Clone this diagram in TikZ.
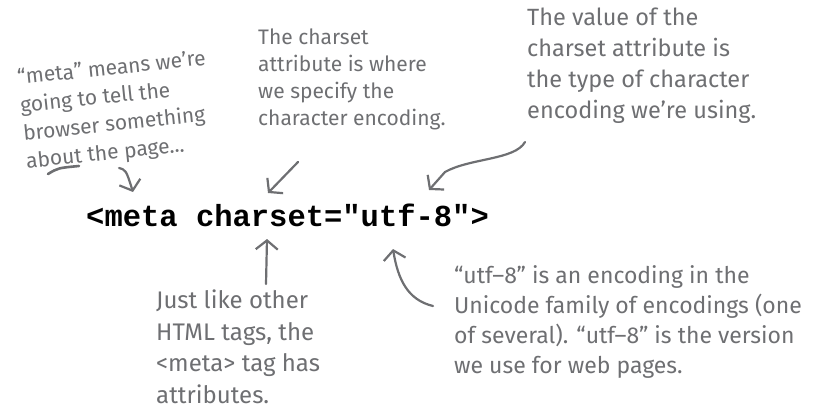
\documentclass[tikz,border=0pt]{standalone}
\usepackage{fontspec}
\setmainfont{Fira Sans}
\newfontfamily\codefont{Liberation Mono}
\usetikzlibrary{arrows.meta}
\definecolor{ink}{HTML}{6E6F72}
\tikzset{
  note/.style={text=ink, align=left, inner sep=0pt},
  pen/.style={draw=ink, line width=2.2pt, line cap=round, line join=round},
  barb/.style={pen, -{Straight Barb[length=9pt, width=22pt, line width=2.2pt]}},
}
\begin{document}
\begin{tikzpicture}[x=1pt, y=-1pt]
\useasboundingbox (0,0) rectangle (821,414);
% code line
\node[anchor=base west, inner sep=0pt, font=\codefont\bfseries\fontsize{30.5}{31}\selectfont] (code) at (86,226) {<meta charset="utf-8">};
% notes
\node[note, rotate=6, anchor=center, font=\fontsize{21}{28}\selectfont] (meta) at (116,111) {“meta” means we’re\\going to tell the\\browser something\\about the page...};
\node[note, anchor=north west, font=\fontsize{21}{27}\selectfont] (charset) at (258,29) {The charset\\attribute is where\\we specify the\\character encoding.};
\node[note, anchor=north west, font=\fontsize{23.5}{31}\selectfont] (value) at (527,8) {The value of the\\charset attribute is\\the type of character\\encoding we’re using.};
\node[note, anchor=north west, font=\fontsize{24}{31.5}\selectfont] (tags) at (156,290) {Just like other\\HTML tags, the\\<meta> tag has\\attributes.};
\node[note, anchor=center, font=\fontsize{23}{30}\selectfont] (utf) at (628,322) {“utf–8” is an encoding in the\\Unicode family of encodings (one\\of several). “utf–8” is the version\\we use for web pages.};
% arrow end points
\coordinate (a1s) at (119,168);
\coordinate (a1t) at (133,192);
\coordinate (a2s) at (298,162);
\coordinate (a2t) at (268,193);
\coordinate (a3s) at (525,142);
\coordinate (a3t) at (429,190);
\coordinate (a4s) at (266,284);
\coordinate (a4t) at (267,239);
\coordinate (a5s) at (433,306);
\coordinate (a5t) at (393,249);
\coordinate (ul1) at (48,174);
\coordinate (ul2) at (79,166);
% underline
\draw[pen, line width=2.6pt] (ul1) .. controls (58,168) .. (ul2);
% arrows
\draw[barb] (a1s) .. controls (126,170) .. (a1t);
\draw[barb] (a2s) -- (a2t);
\draw[barb] (a3s) .. controls (515,160) and (470,158) .. (445,172) -- (a3t);
\draw[barb] (a4s) -- (a4t);
\draw[barb] (a5s) .. controls (408,300) and (398,280) .. (a5t);
\end{tikzpicture}
\end{document}
